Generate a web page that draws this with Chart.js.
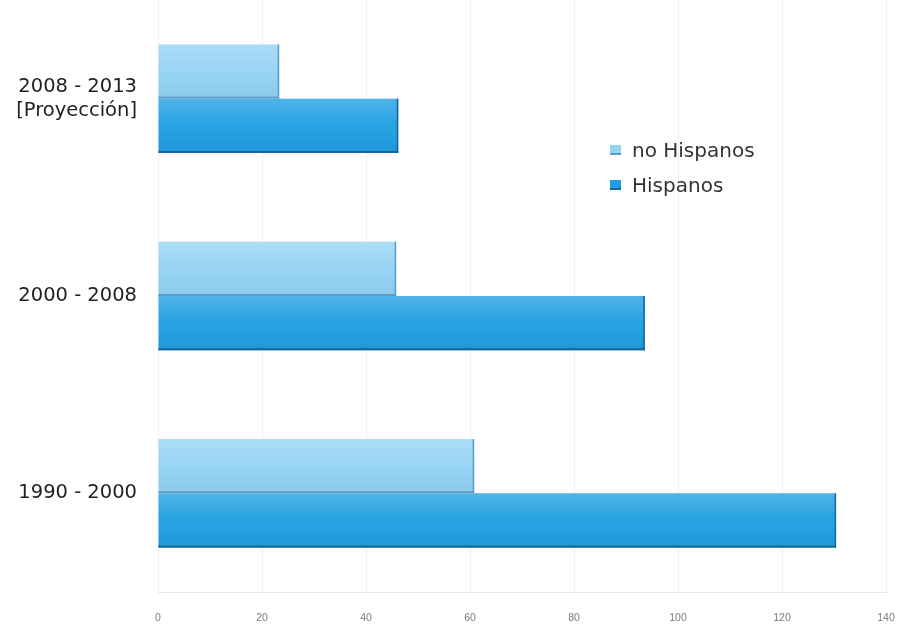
<!DOCTYPE html>
<html>
<head>
<meta charset="utf-8">
<script src="https://cdn.jsdelivr.net/npm/chart.js@4/dist/chart.umd.min.js"></script>
<style>
  html, body { margin: 0; padding: 0; background: #ffffff; }
  #wrap { position: relative; width: 897px; height: 624px; }
  #legend { position: absolute; left: 610px; top: 132px; font-family: "DejaVu Sans", sans-serif; font-size: 20px; color: #333; }
  #legend .row { display: flex; align-items: center; height: 35px; }
  #legend .sw { width: 11px; height: 10px; margin-right: 11px; box-sizing: border-box; }
</style>
</head>
<body>
<div id="wrap">
  <canvas id="c" width="897" height="624"></canvas>
  <div id="legend"></div>
</div>
<script>
// Periods (top to bottom) and growth values per group
const periods = [['2008 - 2013', '[Proyección]'], '2000 - 2008', '1990 - 2000'];
const noHispanos = [23.3, 45.8, 60.8];
const hispanos = [46.2, 93.6, 130.4];
const xTicks = [0, 20, 40, 60, 80, 100, 120, 140];

const seriesStyle = [
  { label: 'no Hispanos', fill: '#94d3f4', edge: '#5b9dc6' },
  { label: 'Hispanos', fill: '#1f9fe1', edge: '#14669b' }
];

// Soft glossy shading on top of each bar
const barShade = {
  id: 'barShade',
  afterDatasetsDraw(chart) {
    const ctx = chart.ctx;
    chart.data.datasets.forEach((ds, di) => {
      const meta = chart.getDatasetMeta(di);
      meta.data.forEach(bar => {
        const p = bar.getProps(['x', 'y', 'base', 'height'], true);
        const top = p.y - p.height / 2;
        const left = Math.min(p.base, p.x);
        const w = Math.abs(p.x - p.base);
        const g = ctx.createLinearGradient(0, top, 0, top + p.height);
        g.addColorStop(0, 'rgba(255,255,255,0.22)');
        g.addColorStop(0.45, 'rgba(255,255,255,0.05)');
        g.addColorStop(1, 'rgba(0,40,80,0.06)');
        ctx.save();
        ctx.fillStyle = g;
        ctx.fillRect(left, top, w, p.height);
        ctx.fillStyle = seriesStyle[di].edge;
        ctx.fillRect(left, top + p.height - 2, w, 2);
        ctx.fillRect(left + w - 1.5, top, 1.5, p.height);
        ctx.restore();
      });
    });
  }
};

// Let the plot area run up to the canvas edges; labels sit in the margins
function noScalePadding(scale) {
  scale.paddingTop = 0;
  scale.paddingBottom = 0;
  scale.paddingLeft = 0;
  scale.paddingRight = 0;
}

const chart = new Chart(document.getElementById('c'), {
  type: 'bar',
  data: {
    labels: periods,
    datasets: [
      { label: seriesStyle[0].label, data: noHispanos, backgroundColor: seriesStyle[0].fill },
      { label: seriesStyle[1].label, data: hispanos, backgroundColor: seriesStyle[1].fill }
    ]
  },
  options: {
    indexAxis: 'y',
    responsive: false,
    animation: false,
    layout: { padding: { top: 0, right: 11, bottom: 0, left: 0 } },
    datasets: { bar: { categoryPercentage: 0.55, barPercentage: 1.0, borderWidth: 0 } },
    plugins: { legend: { display: false }, tooltip: { enabled: false } },
    scales: {
      x: {
        min: 0, max: 140,
        afterBuildTicks(scale) { scale.ticks = xTicks.map(v => ({ value: v })); },
        afterFit(scale) { scale.height = 32; noScalePadding(scale); },
        grid: { color: '#f0f0f0', drawTicks: false },
        border: { display: true, color: '#e6e6e6' },
        ticks: { padding: 20, color: '#7a7a7a', font: { family: 'Liberation Sans', size: 10.5 } }
      },
      y: {
        afterFit(scale) { scale.width = 158; noScalePadding(scale); },
        grid: { display: false, drawTicks: false },
        border: { display: false },
        ticks: { padding: 21, color: '#222', font: { family: 'DejaVu Sans', size: 19.5, lineHeight: 1.22 } }
      }
    }
  },
  plugins: [barShade]
});

// Legend built from the datasets
const legend = document.getElementById('legend');
seriesStyle.forEach(s => {
  const row = document.createElement('div');
  row.className = 'row';
  const sw = document.createElement('span');
  sw.className = 'sw';
  sw.style.background = s.fill;
  sw.style.borderBottom = '2px solid ' + s.edge;
  const t = document.createElement('span');
  t.textContent = s.label;
  row.appendChild(sw);
  row.appendChild(t);
  legend.appendChild(row);
});
</script>
</body>
</html>
